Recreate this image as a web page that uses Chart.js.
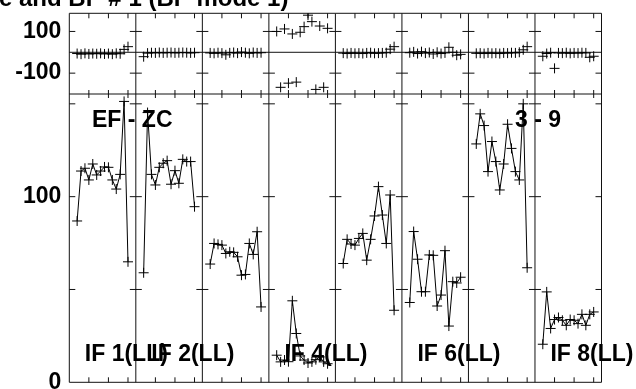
<!DOCTYPE html>
<html><head><meta charset="utf-8">
<script src="https://cdn.jsdelivr.net/npm/chart.js@4/dist/chart.umd.min.js"></script>
<style>html,body{margin:0;padding:0;background:#fff;}canvas{display:block;}</style>
</head><body>
<canvas id="c" width="636" height="389"></canvas>
<script>
// ---- data ----
const titleText = 'e and BP # 1 (BP mode 1)';
const baselineLabel = 'EF - ZC';
const sourceLabel = '3 - 9';
const ifLabels = ['IF 1(LL)', 'IF 2(LL)', 'IF 3(LL)', 'IF 4(LL)', 'IF 5(LL)', 'IF 6(LL)', 'IF 7(LL)', 'IF 8(LL)'];
const shownIfLabels = [0, 1, 3, 5, 7];
const channels = [2, 3, 4, 5, 6, 7, 8, 9, 10, 11, 12, 13, 14, 15];
const chanTicks = [5, 10, 15];
const CH_PER_IF = 17;
const ampLabelTicks = [0, 100];
const ampMarkTicks = [50, 100, 150];
const phaseLabelTicks = [-100, 100];

const ampIF1 = [86.9, 113.8, 115.3, 109, 117.6, 111.7, 113.8, 116, 115.8, 109, 104.1, 112, 151.3, 64.9];
const ampIF2 = [59, 145.3, 112, 106.3, 115.8, 118, 119.4, 106.7, 114, 107.2, 120.1, 118.9, 118.9, 94.6];
const ampIF3 = [63.7, 74.8, 74.3, 73.9, 69.4, 70.3, 70, 67.6, 57.7, 58.1, 74.8, 68.9, 81.1, 40.6];
const ampIF4 = [14.6, 11, 12, 11.1, 43.9, 26.3, 14.2, 12, 10.4, 11, 12.2, 13.7, 11, 10];
const ampIF5 = [64, 77, 74.5, 73.9, 77.5, 80.2, 65.8, 77, 89.6, 105.4, 90.1, 74.8, 100.9, 38.8];
const ampIF6 = [43, 81.2, 66.3, 48.8, 48.8, 68.6, 68.4, 41.1, 47, 70.9, 30.3, 54.2, 53.5, 56.6];
const ampIF7 = [128.4, 144.6, 138.3, 113.5, 129.7, 118.9, 103.6, 117.6, 139, 126, 113.5, 109, 150, 61.7];
const ampIF8 = [20.5, 48.7, 29, 33.8, 34.9, 33.4, 30.7, 33.8, 33.4, 31.6, 36.6, 30.7, 36.6, 37.9];

const phaseIF1 = [-6, -9, -5, -8, -6, -7, -5, -8, -6, -9, -5, -7, 14, 27];
const phaseIF2 = [-21, -4, -2, -3, -1, -3, -2, -1, -3, -2, -1, -2, -3, -2];
const phaseIF3 = [-3, -5, -2, -4, -12, -3, -1, -4, 1, -2, -5, -1, -3, -2];
const phaseIF4 = [100, -168, 112, -148, 88, -143, 96, 123, 178, 147, -178, 126, -168, 115];
const phaseIF5 = [-4, -6, -3, -5, -4, -6, -3, -2, -5, -4, -3, -2, 15, 27];
const phaseIF6 = [-2, 2, -6, 3, -4, -1, -8, 0, -6, -3, 24, 0, -14, -10];
const phaseIF7 = [-5, -4, -6, -3, -5, -4, -6, -3, -4, -2, -3, 0, 12, 27];
const phaseIF8 = [-19, -6, -2, -77, -3, -4, -2, -5, -3, -4, -2, -3, -24, -19];

const ampAll = [ampIF1, ampIF2, ampIF3, ampIF4, ampIF5, ampIF6, ampIF7, ampIF8];
const phaseAll = [phaseIF1, phaseIF2, phaseIF3, phaseIF4, phaseIF5, phaseIF6, phaseIF7, phaseIF8];

// ---- build datasets ----
const FONT = 'Liberation Sans, Arial, sans-serif';
const datasets = [];
ampAll.forEach((arr, i) => {
  datasets.push({
    data: channels.map((c, j) => ({x: i * CH_PER_IF + c, y: arr[j]})),
    yAxisID: 'yAmp', showLine: true, borderColor: '#000', borderWidth: 1,
    pointStyle: 'cross', pointRadius: 5, pointBorderColor: '#000', pointBorderWidth: 1,
    tension: 0
  });
});
phaseAll.forEach((arr, i) => {
  datasets.push({
    data: channels.map((c, j) => ({x: i * CH_PER_IF + c, y: arr[j]})),
    yAxisID: 'yPh', showLine: false, borderColor: '#000',
    pointStyle: 'cross', pointRadius: 5, pointBorderColor: '#000', pointBorderWidth: 1
  });
});

const frame = {
  id: 'frame',
  beforeDatasetsDraw(chart) {
    const {ctx, chartArea: a, scales} = chart;
    const x = scales.x, yA = scales.yAmp, yP = scales.yPh;
    const ln = (x1, y1, x2, y2) => { ctx.beginPath(); ctx.moveTo(x1, y1); ctx.lineTo(x2, y2); ctx.stroke(); };
    ctx.save();
    ctx.strokeStyle = '#111'; ctx.lineWidth = 1;
    const nIF = ampAll.length;
    for (let k = 0; k <= nIF; k++) {
      const px = x.getPixelForValue(k * CH_PER_IF);
      ln(px, yP.top, px, yA.bottom);
      const yTicks = phaseLabelTicks.map(v => yP.getPixelForValue(v)).concat(ampMarkTicks.map(v => yA.getPixelForValue(v)));
      yTicks.forEach(py => {
        ln(k > 0 ? px - 6 : px, py, k < nIF ? px + 6 : px, py);
      });
      if (k < nIF) {
        chanTicks.forEach(c => {
          const tx = x.getPixelForValue(k * CH_PER_IF + c);
          ln(tx, yP.top, tx, yP.top + 5);
          ln(tx, yP.bottom, tx, yP.bottom - 4);
          ln(tx, yA.top, tx, yA.top + 4);
          ln(tx, yA.bottom, tx, yA.bottom - 5);
        });
      }
    }
    ln(a.left, yP.top, a.right, yP.top);
    ln(a.left, yA.top, a.right, yA.top);
    ln(a.left, yA.bottom, a.right, yA.bottom);
    const y0 = yP.getPixelForValue(0);
    ln(a.left, y0, a.right, y0);
    // text
    ctx.fillStyle = '#000';
    ctx.textBaseline = 'alphabetic';
    ctx.textAlign = 'left';
    ctx.font = 'bold 24px ' + FONT;
    ctx.fillText(titleText, -1, 6);
    ctx.font = 'bold 23px ' + FONT;
    ctx.fillText(baselineLabel, 92, 127);
    ctx.fillText(sourceLabel, 515, 127);
    shownIfLabels.forEach(i => {
      ctx.fillText(ifLabels[i], x.getPixelForValue(i * CH_PER_IF) + 15.5, 360.5);
    });
    ctx.restore();
  }
};

const fitY = s => { s.width = 69.3; s.paddingTop = 0; s.paddingBottom = 0; };

new Chart(document.getElementById('c'), {
  type: 'scatter',
  data: {datasets},
  options: {
    responsive: false, animation: false,
    layout: {padding: {left: 0, right: 34.5, top: 13.3, bottom: 6.7}},
    plugins: {legend: {display: false}, tooltip: {enabled: false}, title: {display: false}},
    scales: {
      x: {type: 'linear', min: 0, max: CH_PER_IF * ampAll.length, display: false},
      yPh: {
        type: 'linear', position: 'left', stack: 'v', stackWeight: 80.7, weight: 1,
        min: -200, max: 187,
        afterBuildTicks: s => { s.ticks = phaseLabelTicks.map(v => ({value: v})); },
        afterFit: fitY,
        grid: {display: false, drawTicks: false}, border: {display: false},
        ticks: {color: '#000', padding: 8, autoSkip: false, font: {family: FONT, size: 23, weight: 'bold'}}
      },
      yAmp: {
        type: 'linear', position: 'left', stack: 'v', stackWeight: 288.3, weight: 0,
        min: 0, max: 155.3,
        afterBuildTicks: s => { s.ticks = ampLabelTicks.map(v => ({value: v})); },
        afterFit: fitY,
        grid: {display: false, drawTicks: false}, border: {display: false},
        ticks: {color: '#000', padding: 8, autoSkip: false, font: {family: FONT, size: 23, weight: 'bold'}}
      }
    }
  },
  plugins: [frame]
});
</script>
</body></html>
